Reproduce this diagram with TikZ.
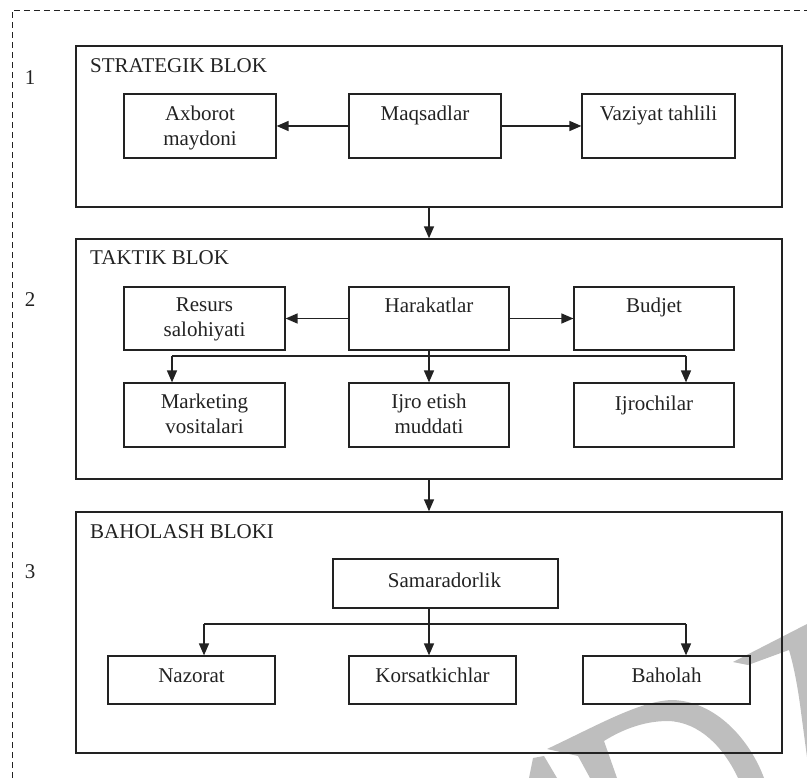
\documentclass[tikz,border=0pt]{standalone}
\usepackage{fontspec}
\setmainfont{Liberation Serif}
\usetikzlibrary{arrows.meta,calc}
\definecolor{ink}{HTML}{222222}
\definecolor{wmark}{HTML}{BEBEBE}
\begin{document}
\begin{tikzpicture}[x=1pt,y=-1pt,
  every node/.style={font=\fontsize{21}{25}\selectfont, text=ink},
  blockbox/.style={draw=ink, line width=1.4pt, rectangle, inner sep=0pt},
  itembox/.style={draw=ink, line width=1.2pt, rectangle, inner sep=0pt},
  lbl/.style={anchor=base, align=center, inner sep=0pt},
  title/.style={anchor=base west, inner sep=0pt},
  conn/.style={draw=ink, line width=1.5pt},
  arr/.style={conn, -{Triangle[length=12pt,width=10pt]}},
  frame/.style={draw=ink, line width=0.9pt, dash pattern=on 6pt off 4pt},
]
\useasboundingbox (0,0) rectangle (807,778);

% faint watermark strokes in the lower right corner
\begin{scope}
\clip (0,0) rectangle (807,778);
\fill[wmark] (529,778) -- (533,758) -- (544,756) -- (557,778) -- cycle;
\fill[wmark] (547,749) .. controls (600,724) and (640,701) .. (672,700)
  .. controls (716,701) and (750,740) .. (764,778) -- (738,778)
  .. controls (724,748) and (700,722) .. (668,721)
  .. controls (642,721) and (620,731) .. (604,741) -- (617,778) -- (590,778)
  -- (578,756) -- cycle;
\fill[wmark] (733,662) -- (807,624) -- (807,757) -- (801,712)
  .. controls (797,680) and (792,660) .. (789,650) -- (748,665) -- cycle;
\end{scope}

% dashed outer frame (top and left edges)
\coordinate (fBL) at (12,778);
\coordinate (fTL) at (12,10);
\coordinate (fTR) at (807,10);
\draw[frame] (fBL) -- (fTL) -- (fTR);

% block numbers
\node[anchor=base, inner sep=0pt] (n1) at (30,85) {1};
\node[anchor=base, inner sep=0pt] (n2) at (30,307) {2};
\node[anchor=base, inner sep=0pt] (n3) at (30,578) {3};

% the three blocks
\node[blockbox, minimum width=706pt, minimum height=161pt] (b1) at (429,126.5) {};
\node[blockbox, minimum width=706pt, minimum height=240pt] (b2) at (429,359) {};
\node[blockbox, minimum width=706pt, minimum height=241pt] (b3) at (429,632.5) {};
\node[title] (t1) at (90,73) {STRATEGIK BLOK};
\node[title] (t2) at (90,265) {TAKTIK BLOK};
\node[title] (t3) at (90,538) {BAHOLASH BLOKI};

% strategic block
\node[itembox, minimum width=152pt, minimum height=64pt] (ax)  at (200,126) {};
\node[itembox, minimum width=152pt, minimum height=64pt] (maq) at (425,126) {};
\node[itembox, minimum width=153pt, minimum height=64pt] (vaz) at (658.5,126) {};
\node[lbl] (axT)  at (200,146) {Axborot\\maydoni};
\node[lbl] (maqT) at (425,121) {Maqsadlar};
\node[lbl] (vazT) at (658.5,121) {Vaziyat tahlili};
\draw[arr] (maq.west) -- (ax.east);
\draw[arr] (maq.east) -- (vaz.west);

% tactical block
\node[itembox, minimum width=161pt, minimum height=63pt] (res) at (204.5,318.5) {};
\node[itembox, minimum width=160pt, minimum height=63pt] (har) at (429,318.5) {};
\node[itembox, minimum width=160pt, minimum height=63pt] (bud) at (654,318.5) {};
\node[itembox, minimum width=161pt, minimum height=64pt] (mar) at (204.5,415) {};
\node[itembox, minimum width=160pt, minimum height=64pt] (ijr) at (429,415) {};
\node[itembox, minimum width=160pt, minimum height=64pt] (ijc) at (654,415) {};
\node[lbl] (resT) at (204.5,337) {Resurs\\salohiyati};
\node[lbl] (harT) at (429,313) {Harakatlar};
\node[lbl] (budT) at (654,313) {Budjet};
\node[lbl] (marT) at (204.5,434) {Marketing\\vositalari};
\node[lbl] (ijrT) at (429,434) {Ijro etish\\muddati};
\node[lbl] (ijcT) at (654,410) {Ijrochilar};
\draw[arr] (har.west) -- (res.east);
\draw[arr] (har.east) -- (bud.west);
\coordinate (brL) at (172,356);
\coordinate (brR) at (686,356);
\draw[conn] (brL) -- (brR);
\draw[arr] (brL) -- (brL |- mar.north);
\draw[arr] (brR) -- (brR |- ijc.north);
\draw[arr] (har.south) -- (ijr.north);

% evaluation block
\node[itembox, minimum width=225pt, minimum height=49pt] (sam) at (445.5,583.5) {};
\node[itembox, minimum width=167pt, minimum height=48pt] (naz) at (191.5,680) {};
\node[itembox, minimum width=167pt, minimum height=48pt] (kor) at (432.5,680) {};
\node[itembox, minimum width=167pt, minimum height=48pt] (bah) at (666.5,680) {};
\node[lbl] (samT) at (444.5,587) {Samaradorlik};
\node[lbl] (nazT) at (191.5,682) {Nazorat};
\node[lbl] (korT) at (432.5,682) {Korsatkichlar};
\node[lbl] (bahT) at (666.5,682) {Baholah};
\coordinate (evL) at (204,624);
\coordinate (evM) at (429,624);
\coordinate (evR) at (686,624);
\draw[conn] (evM |- sam.south) -- (evM);
\draw[conn] (evL) -- (evR);
\draw[arr] (evL) -- (evL |- naz.north);
\draw[arr] (evM) -- (evM |- kor.north);
\draw[arr] (evR) -- (evR |- bah.north);

% links between blocks
\draw[arr] (har |- b1.south) -- (har |- b2.north);
\draw[arr] (har |- b2.south) -- (har |- b3.north);
\end{tikzpicture}
\end{document}
